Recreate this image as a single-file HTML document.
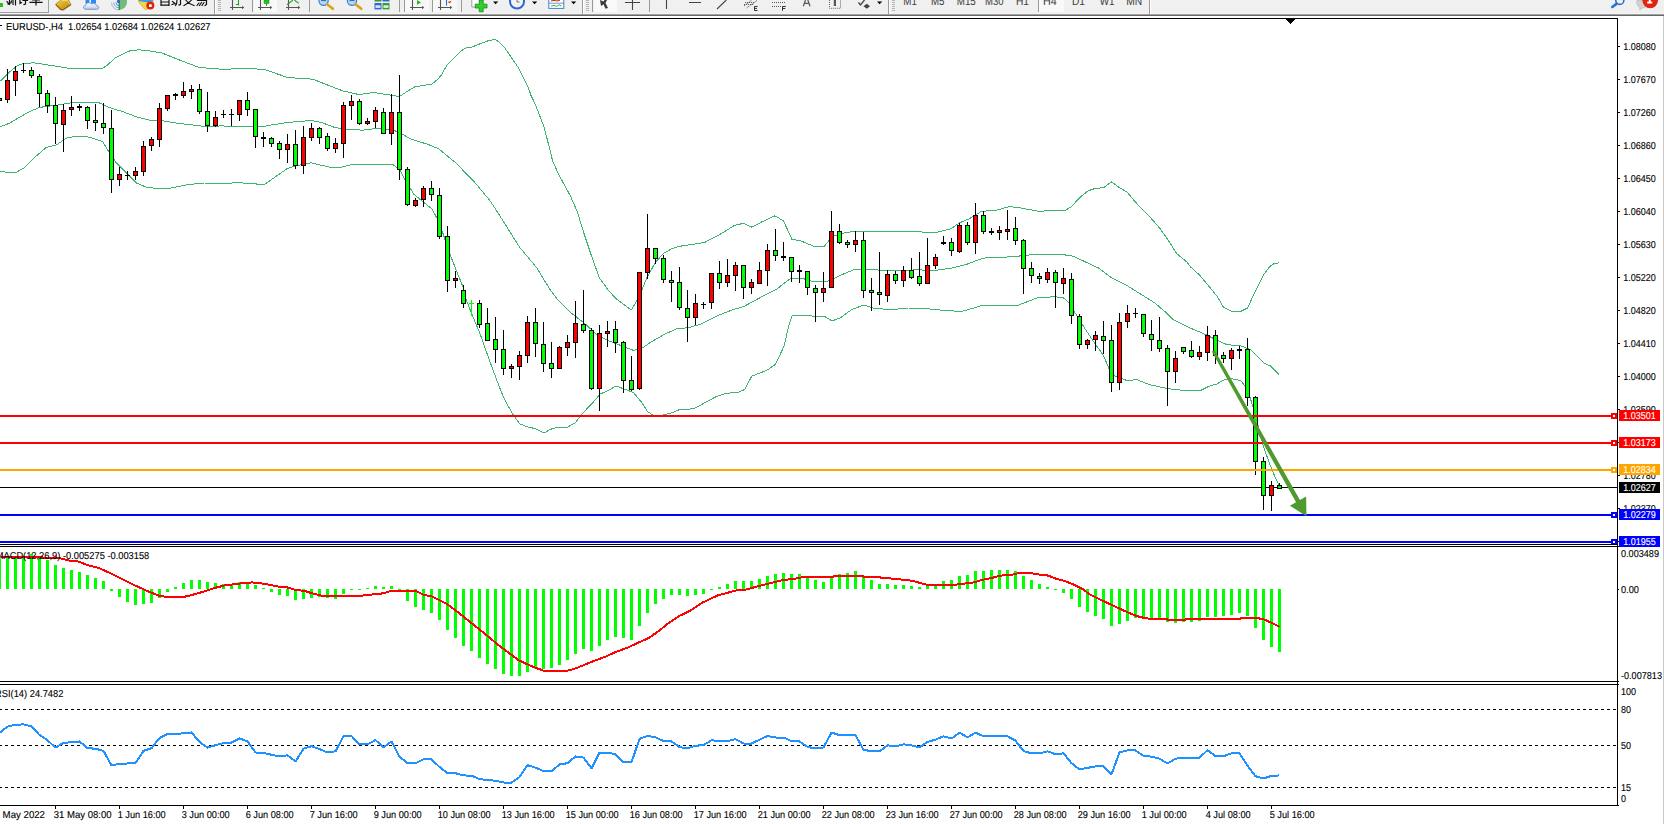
<!DOCTYPE html><html><head><meta charset="utf-8"><title>EURUSD H4</title><style>html,body{margin:0;padding:0;background:#fff;overflow:hidden}svg{display:block}text{font-family:"Liberation Sans",sans-serif;white-space:pre;text-rendering:geometricPrecision;stroke:#000;stroke-width:.12px}text[fill="#fff"]{stroke:#fff}</style></head><body>
<svg width="1664" height="824" viewBox="0 0 1664 824">
<rect x="0" y="0" width="1664" height="824" fill="#fff"/>
<g id="tb">
<rect x="0" y="0" width="1664" height="14" fill="#f0f0f0"/>
<g shape-rendering="crispEdges">
<rect x="0" y="13" width="1664" height="1" fill="#f4f4f4"/><rect x="0" y="14" width="1664" height="1" fill="#a0a0a0"/><rect x="0" y="15" width="1664" height="1" fill="#696969"/><rect x="0" y="16" width="1664" height="2" fill="#fff"/>
<rect x="48" y="0" width="1" height="13" fill="#a0a0a0"/><rect x="0" y="12" width="49" height="1" fill="#a0a0a0"/>
<rect x="0" y="3" width="3" height="4" fill="#1fc71f"/>
<rect x="214" y="0" width="1" height="14" fill="#9a9a9a"/>
<rect x="252" y="0" width="1" height="12" fill="#9a9a9a"/>
<rect x="309" y="0" width="1" height="12" fill="#9a9a9a"/>
<rect x="399" y="0" width="1" height="12" fill="#9a9a9a"/>
<rect x="404" y="0" width="1" height="12" fill="#9a9a9a"/>
<rect x="432" y="0" width="1" height="12" fill="#9a9a9a"/>
<rect x="461" y="0" width="1" height="12" fill="#9a9a9a"/>
<rect x="582" y="0" width="1" height="14" fill="#9a9a9a"/>
<rect x="592" y="0" width="1" height="12" fill="#9a9a9a"/>
<rect x="649" y="0" width="1" height="12" fill="#9a9a9a"/>
<rect x="888" y="0" width="1" height="14" fill="#9a9a9a"/>
<rect x="1038" y="0" width="1" height="12" fill="#9a9a9a"/>
<rect x="1149" y="0" width="1" height="14" fill="#9a9a9a"/>
<rect x="215" y="0" width="1" height="14" fill="#fff"/>
<rect x="583" y="0" width="1" height="14" fill="#fff"/>
<rect x="889" y="0" width="1" height="14" fill="#fff"/>
<rect x="1150" y="0" width="1" height="14" fill="#fff"/>
<rect x="218" y="0" width="3" height="1" fill="#b4b4b4"/>
<rect x="218" y="2" width="3" height="1" fill="#b4b4b4"/>
<rect x="218" y="4" width="3" height="1" fill="#b4b4b4"/>
<rect x="218" y="6" width="3" height="1" fill="#b4b4b4"/>
<rect x="218" y="8" width="3" height="1" fill="#b4b4b4"/>
<rect x="218" y="10" width="3" height="1" fill="#b4b4b4"/>
<rect x="586" y="0" width="3" height="1" fill="#b4b4b4"/>
<rect x="586" y="2" width="3" height="1" fill="#b4b4b4"/>
<rect x="586" y="4" width="3" height="1" fill="#b4b4b4"/>
<rect x="586" y="6" width="3" height="1" fill="#b4b4b4"/>
<rect x="586" y="8" width="3" height="1" fill="#b4b4b4"/>
<rect x="586" y="10" width="3" height="1" fill="#b4b4b4"/>
<rect x="892" y="0" width="3" height="1" fill="#b4b4b4"/>
<rect x="892" y="2" width="3" height="1" fill="#b4b4b4"/>
<rect x="892" y="4" width="3" height="1" fill="#b4b4b4"/>
<rect x="892" y="6" width="3" height="1" fill="#b4b4b4"/>
<rect x="892" y="8" width="3" height="1" fill="#b4b4b4"/>
<rect x="892" y="10" width="3" height="1" fill="#b4b4b4"/>
<rect x="254" y="0" width="23" height="12" fill="#f9f9f9"/><rect x="594" y="0" width="23" height="12" fill="#f9f9f9"/><rect x="1039" y="0" width="25" height="12" fill="#f9f9f9"/><rect x="405" y="0" width="24" height="12" fill="#f8f8f8"/><rect x="433" y="0" width="24" height="12" fill="#f8f8f8"/>
</g>
<g stroke="#111" stroke-width="1.2" fill="none" stroke-linecap="square">
<path d="M7 1.5L9 4M9.5 0V4.5L8 4M11.5 1L10.8 3M13 0V4.5M15.5 0V5"/>
<path d="M20 0V3.5L21.5 2.5M23 0.5H27.5M25.5 0.5V4L24 4.5"/>
<path d="M30 2.3H42M36 0V5M32.5 0H39.5"/>
<path d="M161 0V5.5M169 0V5.5M161 2H169M161 5.2H169"/>
<path d="M172.5 1.5L175 3.5L172 4.5M177 0C177 3 176.5 4.5 175.5 5.5M180.5 0V4.5L179 5"/>
<path d="M184 5.5C187 4 190 2 191.5 0M186 0.5C188 3 190.5 4.5 194 5.5"/>
<path d="M197.5 0.5H206.5M199 3L197 5.5M201.5 2.5L199.5 5.5M206.5 0.5V4.5L205 5.5M204 2.5L202 5.5"/>
</g>
<defs><linearGradient id="gd" x1="0" y1="0" x2="1" y2="1"><stop offset="0" stop-color="#f6d24a"/><stop offset="1" stop-color="#b67c08"/></linearGradient>
<linearGradient id="cl" x1="0" y1="0" x2="0" y2="1"><stop offset="0" stop-color="#fff"/><stop offset="1" stop-color="#b9c9e6"/></linearGradient></defs>
<path d="M55.5 4L61 0H68.5L71 4.5L63 10L60.5 9.5Z" fill="url(#gd)" stroke="#a87408" stroke-width=".6"/><path d="M55.8 4.6L60.5 9.4L63 10L71 4.6" fill="none" stroke="#8a5a04" stroke-width="1.1"/><path d="M61.5 0.5L67.5 0.5L69.5 3.8" fill="none" stroke="#fbe58a" stroke-width=".8"/>
<rect x="85.5" y="0" width="10.5" height="3.5" fill="#2b8cf0"/><rect x="89.5" y="0" width="1.5" height="3" fill="#fff"/>
<path d="M86 9.3C83 9.3 82.5 5.8 85.5 5.3C86 2.5 90 1.8 91.5 4C94 2.8 96.5 4 96.5 5.6C99.5 5.8 99.5 9.3 96.5 9.3Z" fill="url(#cl)" stroke="#5f83bd" stroke-width=".8"/>
<g fill="none" stroke="#4a7be0" stroke-width=".9"><path d="M119 2.5m-3 0a3 3 0 0 0 3 3"/><path d="M119 2.5m-5.2 0a5.2 5.2 0 0 0 5.2 5.2" opacity=".8"/><path d="M119 2.5m-7.5 0a7.5 7.5 0 0 0 7.5 7.5" opacity=".55"/></g>
<path d="M119 2V10A8 8 0 0 0 127 1V0H119Z" fill="#4aa55a" opacity=".75"/><rect x="118.6" y="2" width="1.4" height="8" fill="#1e9c2e"/><circle cx="118.5" cy="1.5" r="1.6" fill="#2c62d8"/>
<path d="M138.5 1.5L144.5 9L146.5 9.6L153 4V0H138.5Z" fill="#f7d646" stroke="#c59a10" stroke-width=".6"/><path d="M139 0H153V1.2C148 2.6 143 2.4 139 1Z" fill="#3aa0e6"/>
<circle cx="150.3" cy="5.6" r="4" fill="#e2230f"/><rect x="149" y="4.3" width="2.7" height="2.7" fill="#fff"/>
<path d="M232.5 0V10M230 7.5H243" stroke="#555" stroke-width="1.1" fill="none"/><path d="M242 5.7L244.3 7.5L242 9.3Z" fill="#555"/>
<path d="M238.5 0V5.6M236 4.5H238.5" stroke="#1da51d" stroke-width="1.1" fill="none"/>
<path d="M260.5 0V10M258 7.5H271" stroke="#555" stroke-width="1.1" fill="none"/><path d="M270 5.7L272.3 7.5L270 9.3Z" fill="#555"/>
<rect x="264" y="0" width="5" height="3.6" fill="#22c322" stroke="#159015" stroke-width=".5"/><path d="M266.5 3.6V5.8" stroke="#159015"/>
<path d="M288.5 0V10M286 7.5H299" stroke="#555" stroke-width="1.1" fill="none"/><path d="M298 5.7L300.3 7.5L298 9.3Z" fill="#555"/>
<path d="M287 4.8L293 0M294.5 0C296 1.5 297.5 2.5 298.8 3.2" stroke="#2aa52a" stroke-width="1.1" fill="none"/>
<circle cx="323.6" cy="0.8" r="4.6" fill="#b5d6f4" stroke="#3f7fd0" stroke-width="1.2"/><path d="M327.40000000000003 4.4L332.90000000000003 8.8" stroke="#d9a514" stroke-width="2.6" stroke-linecap="round"/>
<path d="M321.1 0.6H326.1" stroke="#2c62b8" stroke-width="1"/>
<circle cx="352" cy="0.8" r="4.6" fill="#b5d6f4" stroke="#3f7fd0" stroke-width="1.2"/><path d="M355.8 4.4L361.3 8.8" stroke="#d9a514" stroke-width="2.6" stroke-linecap="round"/>
<path d="M349.5 0.6H354.5" stroke="#2c62b8" stroke-width="1"/>
<rect x="374.5" y="0" width="7" height="1.5" fill="#2fa12f"/><rect x="382.5" y="0" width="7" height="1.5" fill="#3a62d4"/><rect x="374.5" y="3" width="7" height="6.4" fill="#3a62d4"/><rect x="382.5" y="3" width="7" height="6.4" fill="#2fa12f"/>
<rect x="375.5" y="5.3" width="5" height="2.6" fill="#fff" opacity=".85"/><rect x="383.5" y="5.3" width="5" height="2.6" fill="#fff" opacity=".85"/>
<path d="M412.5 0V10M410 7.5H423" stroke="#555" stroke-width="1.1" fill="none"/><path d="M422 5.7L424.3 7.5L422 9.3Z" fill="#555"/>
<path d="M417 0L421 2.4L417 4.8Z" fill="#22b522"/>
<path d="M440.5 0V10M438 7.5H451" stroke="#555" stroke-width="1.1" fill="none"/><path d="M450 5.7L452.3 7.5L450 9.3Z" fill="#555"/>
<path d="M446.5 0V5.6" stroke="#2c6fd0" stroke-width="1.1"/><path d="M447.5 2L451.5 0.7L450 3.4Z" fill="#e0401a"/>
<path d="M471.8 0V7H479.5V0" fill="#fff" stroke="#8a8a8a" stroke-width=".8"/>
<path d="M479.2 0H483.2V4.2H487V8H483.2V11.8H479.2V8H475.2V4.2H479.2Z" fill="#2fcf2f" stroke="#148a14" stroke-width=".8"/>
<path d="M493 1.5H498.2L495.6 4.3Z" fill="#000"/>
<path d="M532 1.5H537.2L534.6 4.3Z" fill="#000"/>
<path d="M571 1.5H576.2L573.6 4.3Z" fill="#000"/>
<path d="M877 1.5H882.2L879.6 4.3Z" fill="#000"/>
<circle cx="517" cy="1.5" r="7" fill="#f4f4f4" stroke="#2b6ad0" stroke-width="2"/><path d="M517 0V2H519.5" stroke="#666" stroke-width=".9" fill="none"/>
<rect x="548.8" y="-1" width="15" height="9.4" fill="#fff" stroke="#3f7fd0" stroke-width="1"/><path d="M549 3.2H564" stroke="#3f7fd0" stroke-width=".8"/><path d="M551 1L554 0.4L557 1L560 0.2" stroke="#c0281a" stroke-width="1" fill="none"/><path d="M551 6.2L554 5.4L556.5 6.4L559 4.8L561.5 6" stroke="#2aa52a" stroke-width=".9" fill="none"/>
<path d="M600 0L603.5 1.5L604.5 0H607L605.5 3L608 8L605.5 8.8L603.5 4.2L601 6Z" fill="#3a3a3a"/>
<path d="M632.5 0V10M625 2.5H640" stroke="#444" stroke-width="1.1"/>
<path d="M666.5 0V9M689 2.5H701M717 9L726.3 0" stroke="#444" stroke-width="1.1"/>
<path d="M744 6L752 0M746.5 8L757 0.5M745 2.5H755M744 4.5H754" stroke="#555" stroke-width=".9" stroke-dasharray="1.2 .8"/>
<path d="M754.5 6.5V10.5M754.5 6.5H757.5M754.5 8.4H757M754.5 10.5H757.5" stroke="#333" stroke-width="1" fill="none"/>
<path d="M772 2.5H785M772 6.5H781" stroke="#555" stroke-width="1" stroke-dasharray="1 1"/><path d="M782.5 6.5V10.8M782.5 6.5H785.8M782.5 8.5H785.3" stroke="#333" stroke-width="1" fill="none"/>
<path d="M803.3 6.3L805.5 0M810 6.3L807.8 0M804.3 3.4H809" stroke="#555" stroke-width="1.2" fill="none"/>
<path d="M829.5 0V8.3H840.5V0" stroke="#555" stroke-width=".9" stroke-dasharray="1 1" fill="none"/><rect x="833.8" y="0" width="2.2" height="6" fill="#555"/>
<path d="M858.5 2.5L860.5 5L864.5 0" stroke="#444" stroke-width="1.3" fill="none"/><path d="M863.5 6.2L866.8 3.8L870 6.2L866.8 8.8Z" fill="#444"/>
<g fill="#3c3c3c" font-size="11.5">
<text x="903.3" y="5.3" textLength="13.5" lengthAdjust="spacingAndGlyphs" style="stroke:none">M1</text>
<text x="931" y="5.3" textLength="13.5" lengthAdjust="spacingAndGlyphs" style="stroke:none">M5</text>
<text x="956.8" y="5.3" textLength="19" lengthAdjust="spacingAndGlyphs" style="stroke:none">M15</text>
<text x="985" y="5.3" textLength="18.5" lengthAdjust="spacingAndGlyphs" style="stroke:none">M30</text>
<text x="1016" y="5.3" textLength="13" lengthAdjust="spacingAndGlyphs" style="stroke:none">H1</text>
<text x="1043" y="5.3" textLength="13.7" lengthAdjust="spacingAndGlyphs" style="stroke:none">H4</text>
<text x="1072" y="5.3" textLength="13" lengthAdjust="spacingAndGlyphs" style="stroke:none">D1</text>
<text x="1099.7" y="5.3" textLength="14.8" lengthAdjust="spacingAndGlyphs" style="stroke:none">W1</text>
<text x="1126.2" y="5.3" textLength="16" lengthAdjust="spacingAndGlyphs" style="stroke:none">MN</text>
</g>
<circle cx="1619.8" cy="0.4" r="4" fill="none" stroke="#2a6fd6" stroke-width="1.6"/><path d="M1616.8 3.6L1612.3 7" stroke="#2a6fd6" stroke-width="2.6" stroke-linecap="round"/>
<path d="M1637 0C1636 3.5 1637.5 6.5 1640 7.3L1639.6 10L1642.6 7.8C1646 7.8 1648 5 1648 0Z" fill="#d2d2d2" stroke="#b4b4b4" stroke-width=".6"/>
<circle cx="1650.2" cy="0.4" r="7.8" fill="#e2230f"/><rect x="1647.2" y="1.6" width="5" height="1.9" fill="#fff"/><rect x="1648.8" y="0" width="1.9" height="2" fill="#fff"/>
</g>
<g shape-rendering="crispEdges">
<rect x="0" y="18" width="1618" height="1" fill="#000"/>
<rect x="1617" y="18" width="1" height="788" fill="#000"/>
<rect x="1663" y="16" width="1" height="808" fill="#c8c8c8"/>
</g>
<clipPath id="cm"><rect x="0" y="19" width="1617" height="525"/></clipPath>
<g clip-path="url(#cm)">
<g shape-rendering="crispEdges">
<polyline points="0.5,81.1 9.0,72.5 17.5,65.5 24.3,63.2 34.5,62.9 51.5,65.5 68.5,68.3 85.5,68.7 102.5,68.3 106.5,65.8 116.0,57.3 129.5,51.0 138.5,49.8 146.5,50.5 161.9,53.0 178.9,59.8 199.3,67.5 221.4,69.2 246.8,68.7 263.8,69.2 270.5,71.5 287.5,77.5 313.0,79.2 330.0,86.0 343.5,91.1 358.8,94.5 374.1,92.5 389.5,95.0 399.5,96.5 406.5,91.9 414.9,86.8 420.5,86.0 432.0,84.0 437.5,79.5 440.9,75.6 446.8,65.4 452.4,59.5 459.6,52.3 464.7,48.3 472.3,46.9 480.0,43.8 487.6,41.0 492.7,39.9 496.1,39.9 500.4,43.3 504.6,47.6 510.6,56.5 519.1,68.8 525.0,80.7 528.0,86.7 531.0,95.5 535.5,104.7 544.0,126.8 550.5,152.2 552.5,160.5 558.5,174.1 570.5,196.2 577.2,211.5 584.0,233.5 590.8,253.9 599.3,277.7 607.8,289.5 616.3,299.0 626.5,306.5 631.5,310.0 635.8,302.4 641.8,290.5 646.8,277.7 655.3,262.5 663.8,253.1 672.3,248.5 679.0,246.4 704.5,242.5 719.8,234.5 735.1,225.1 743.5,223.4 752.0,227.2 762.2,221.7 775.0,215.8 783.5,220.9 792.0,239.5 799.6,240.4 814.9,246.7 824.2,246.4 831.9,237.0 840.4,233.6 855.7,231.1 874.4,231.6 908.4,231.1 933.8,232.8 940.5,231.5 950.7,228.9 959.2,223.0 969.4,218.7 981.3,211.4 996.5,210.2 1008.5,206.8 1017.0,207.2 1037.3,211.1 1064.5,210.7 1071.3,206.8 1079.8,197.5 1088.3,190.7 1095.1,188.5 1103.6,187.6 1111.5,181.9 1118.9,187.3 1127.4,192.4 1135.9,202.6 1147.8,214.5 1159.7,228.1 1168.1,240.0 1176.6,253.5 1186.8,262.0 1190.5,266.9 1199.6,275.1 1208.7,286.0 1216.9,296.0 1223.3,306.9 1232.4,311.9 1239.7,311.9 1247.8,307.9 1254.2,293.3 1263.3,275.1 1270.6,265.6 1274.2,263.6 1279.5,262.7" fill="none" stroke="#3cb371" stroke-width="1" stroke-linejoin="bevel"/>
<polyline points="0.5,126.5 9.0,123.5 17.5,118.5 29.4,111.7 39.5,107.4 56.5,105.2 71.9,102.7 85.5,102.7 99.0,102.8 109.2,107.4 122.8,111.7 136.5,116.8 150.0,120.2 163.5,121.0 178.9,123.5 192.5,124.9 209.5,127.0 221.4,125.8 238.4,127.0 255.3,126.6 265.5,126.1 270.5,125.1 287.5,122.5 311.3,120.5 321.5,122.5 335.1,127.6 343.5,128.8 362.2,130.2 375.8,128.5 392.8,129.8 401.3,133.5 409.8,138.7 428.5,144.6 438.7,148.8 448.9,157.3 457.4,164.1 465.9,173.5 473.5,180.9 490.5,201.3 502.5,220.0 519.5,247.1 536.5,267.5 550.0,289.5 558.5,300.7 570.4,312.5 584.0,322.8 595.9,333.8 607.8,340.5 621.4,345.7 633.3,350.3 641.8,348.3 651.9,341.5 663.8,334.7 676.8,328.6 687.8,327.8 700.5,324.2 719.4,315.0 732.0,310.0 743.5,306.7 762.2,296.5 775.8,289.7 791.1,278.1 801.3,278.1 814.9,282.0 826.8,281.7 840.4,275.3 855.7,269.0 874.4,269.8 896.5,271.0 916.8,269.8 933.8,270.5 940.5,269.7 952.4,268.0 966.0,264.6 983.0,258.1 1003.4,257.3 1022.0,255.8 1037.3,254.1 1059.4,254.1 1073.0,256.1 1084.9,261.7 1098.5,268.0 1112.1,278.2 1127.4,285.8 1141.0,294.3 1154.6,302.8 1166.5,313.0 1172.8,319.4 1189.8,327.9 1205.1,334.3 1216.0,339.7 1226.9,344.6 1241.5,346.1 1250.6,349.7 1263.3,362.5 1270.6,366.1 1279.5,375.2" fill="none" stroke="#3cb371" stroke-width="1" stroke-linejoin="bevel"/>
<polyline points="0.5,171.1 9.0,172.8 15.8,172.5 24.3,167.7 34.5,157.5 46.4,147.3 56.5,144.8 66.8,138.0 77.0,136.0 88.8,137.1 102.5,141.4 109.2,152.5 116.0,162.5 126.2,172.8 136.5,183.0 146.5,187.3 156.8,188.5 170.5,188.1 187.5,184.7 204.5,183.0 221.5,183.5 238.4,182.7 255.3,183.9 263.8,184.7 270.5,180.3 279.0,174.3 287.5,168.4 296.0,165.8 311.3,162.8 321.5,165.3 333.4,167.9 341.9,167.0 350.4,165.0 372.4,164.6 392.8,164.6 399.6,169.2 405.5,180.9 414.1,194.5 422.5,201.3 431.9,208.9 437.0,218.3 443.0,233.5 449.8,253.9 456.5,270.9 463.4,287.9 465.9,299.0 471.9,314.3 480.4,334.7 488.8,358.5 496.9,380.5 501.5,392.4 506.6,403.4 513.0,414.5 516.0,418.7 519.8,423.8 527.0,426.8 534.7,428.5 544.0,433.0 550.8,429.2 558.5,427.0 567.8,427.0 575.5,422.6 578.9,417.9 581.8,414.1 592.5,403.0 600.1,394.1 606.9,391.1 616.2,386.0 623.0,388.6 633.3,392.4 641.8,402.6 647.6,411.7 653.9,415.6 661.0,415.6 672.0,412.8 679.1,409.8 687.8,409.6 695.7,407.8 708.3,400.7 716.2,396.7 726.5,393.1 736.7,392.8 744.6,389.6 751.7,376.2 758.8,373.4 766.7,370.4 775.4,364.4 784.0,346.2 788.8,325.7 791.9,315.8 811.6,315.8 814.0,316.7 825.0,316.7 832.1,321.0 840.4,317.7 852.3,309.2 864.2,305.0 874.4,308.4 891.4,309.6 908.4,308.0 933.8,309.2 940.5,310.1 950.7,310.5 960.0,311.8 974.5,307.9 983.0,305.0 1000.0,305.7 1017.0,305.7 1028.8,301.1 1039.0,297.2 1056.0,296.9 1064.1,298.1 1069.2,303.2 1076.0,314.3 1084.5,327.9 1094.7,343.2 1103.2,355.1 1109.1,368.7 1115.1,376.3 1127.0,380.5 1137.1,379.7 1149.0,384.5 1167.7,388.7 1186.4,390.7 1200.0,390.7 1208.5,386.5 1217.0,383.9 1223.8,380.0 1232.3,378.8 1240.8,380.5 1245.9,387.3 1250.1,397.5 1253.3,407.8 1258.8,427.8 1263.3,446.0 1269.7,464.2 1275.1,477.0 1279.7,486.1" fill="none" stroke="#3cb371" stroke-width="1" stroke-linejoin="bevel"/>
</g>
<g shape-rendering="crispEdges">
<rect x="0" y="487" width="1617" height="1" fill="#000"/>
<path d="M7.5 69V103" stroke="#000"/><rect x="5.5" y="80.5" width="4" height="19" fill="#f00" stroke="#000"/>
<path d="M15.5 66V96" stroke="#000"/><rect x="13.5" y="71.5" width="4" height="9" fill="#f00" stroke="#000"/>
<path d="M23.5 63V73M21 70.5H26" stroke="#000" fill="none"/>
<path d="M31.5 67V78" stroke="#000"/><rect x="29.5" y="70.5" width="4" height="5" fill="#0f0" stroke="#000"/>
<path d="M39.5 74V107" stroke="#000"/><rect x="37.5" y="76.5" width="4" height="17" fill="#0f0" stroke="#000"/>
<path d="M47.5 90V113" stroke="#000"/><rect x="45.5" y="93.5" width="4" height="12" fill="#0f0" stroke="#000"/>
<path d="M55.5 97V144" stroke="#000"/><rect x="53.5" y="105.5" width="4" height="18" fill="#0f0" stroke="#000"/>
<path d="M63.5 104V152" stroke="#000"/><rect x="61.5" y="110.5" width="4" height="14" fill="#f00" stroke="#000"/>
<path d="M71.5 96V116" stroke="#000"/><rect x="69.5" y="107.5" width="4" height="2" fill="#f00" stroke="#000"/>
<path d="M79.5 104V111" stroke="#000"/><rect x="77" y="106" width="5" height="2" fill="#000"/>
<path d="M87.5 106V129" stroke="#000"/><rect x="85.5" y="107.5" width="4" height="13" fill="#0f0" stroke="#000"/>
<path d="M95.5 104V131" stroke="#000"/><rect x="93.5" y="120.5" width="4" height="2" fill="#0f0" stroke="#000"/>
<path d="M103.5 103V134" stroke="#000"/><rect x="101.5" y="123.5" width="4" height="4" fill="#0f0" stroke="#000"/>
<path d="M111.5 110V193" stroke="#000"/><rect x="109.5" y="128.5" width="4" height="51" fill="#0f0" stroke="#000"/>
<path d="M119.5 167V186" stroke="#000"/><rect x="117.5" y="174.5" width="4" height="5" fill="#f00" stroke="#000"/>
<path d="M127.5 171V180M125 175.5H130" stroke="#000" fill="none"/>
<path d="M135.5 167V180" stroke="#000"/><rect x="133.5" y="171.5" width="4" height="4" fill="#f00" stroke="#000"/>
<path d="M143.5 141V176" stroke="#000"/><rect x="141.5" y="146.5" width="4" height="25" fill="#f00" stroke="#000"/>
<path d="M151.5 137V151" stroke="#000"/><rect x="149.5" y="139.5" width="4" height="6" fill="#f00" stroke="#000"/>
<path d="M159.5 103V147" stroke="#000"/><rect x="157.5" y="108.5" width="4" height="31" fill="#f00" stroke="#000"/>
<path d="M167.5 95V111" stroke="#000"/><rect x="165.5" y="95.5" width="4" height="13" fill="#f00" stroke="#000"/>
<path d="M175.5 93V100" stroke="#000"/><rect x="173" y="94" width="5" height="2" fill="#000"/>
<path d="M183.5 82V98" stroke="#000"/><rect x="181.5" y="91.5" width="4" height="4" fill="#f00" stroke="#000"/>
<path d="M191.5 85V99" stroke="#000"/><rect x="189.5" y="89.5" width="4" height="2" fill="#f00" stroke="#000"/>
<path d="M199.5 84V114" stroke="#000"/><rect x="197.5" y="89.5" width="4" height="22" fill="#0f0" stroke="#000"/>
<path d="M207.5 92V132" stroke="#000"/><rect x="205.5" y="111.5" width="4" height="14" fill="#0f0" stroke="#000"/>
<path d="M215.5 111V127" stroke="#000"/><rect x="213.5" y="117.5" width="4" height="8" fill="#f00" stroke="#000"/>
<path d="M223.5 110V118M221 114.5H226" stroke="#000" fill="none"/>
<path d="M231.5 109V126M229 114.5H234" stroke="#000" fill="none"/>
<path d="M239.5 100V121" stroke="#000"/><rect x="237.5" y="100.5" width="4" height="14" fill="#f00" stroke="#000"/>
<path d="M247.5 92V116" stroke="#000"/><rect x="245.5" y="100.5" width="4" height="9" fill="#0f0" stroke="#000"/>
<path d="M255.5 109V148" stroke="#000"/><rect x="253.5" y="109.5" width="4" height="27" fill="#0f0" stroke="#000"/>
<path d="M263.5 132V147" stroke="#000"/><rect x="261" y="137" width="5" height="2" fill="#000"/>
<path d="M271.5 137V147" stroke="#000"/><rect x="269.5" y="138.5" width="4" height="5" fill="#0f0" stroke="#000"/>
<path d="M279.5 141V159" stroke="#000"/><rect x="277.5" y="143.5" width="4" height="6" fill="#0f0" stroke="#000"/>
<path d="M287.5 134V163" stroke="#000"/><rect x="285.5" y="144.5" width="4" height="5" fill="#f00" stroke="#000"/>
<path d="M295.5 130V169" stroke="#000"/><rect x="293.5" y="144.5" width="4" height="21" fill="#0f0" stroke="#000"/>
<path d="M303.5 126V174" stroke="#000"/><rect x="301.5" y="137.5" width="4" height="28" fill="#f00" stroke="#000"/>
<path d="M311.5 123V141" stroke="#000"/><rect x="309.5" y="128.5" width="4" height="9" fill="#f00" stroke="#000"/>
<path d="M319.5 127V144" stroke="#000"/><rect x="317.5" y="128.5" width="4" height="9" fill="#0f0" stroke="#000"/>
<path d="M327.5 133V151" stroke="#000"/><rect x="325.5" y="136.5" width="4" height="12" fill="#0f0" stroke="#000"/>
<path d="M335.5 138V153" stroke="#000"/><rect x="333.5" y="143.5" width="4" height="5" fill="#f00" stroke="#000"/>
<path d="M343.5 102V158" stroke="#000"/><rect x="341.5" y="105.5" width="4" height="38" fill="#f00" stroke="#000"/>
<path d="M351.5 95V120" stroke="#000"/><rect x="349.5" y="101.5" width="4" height="4" fill="#f00" stroke="#000"/>
<path d="M359.5 99V125" stroke="#000"/><rect x="357.5" y="101.5" width="4" height="22" fill="#0f0" stroke="#000"/>
<path d="M367.5 118V125" stroke="#000"/><rect x="365.5" y="121.5" width="4" height="2" fill="#f00" stroke="#000"/>
<path d="M375.5 107V128" stroke="#000"/><rect x="373.5" y="110.5" width="4" height="11" fill="#f00" stroke="#000"/>
<path d="M383.5 108V134" stroke="#000"/><rect x="381.5" y="112.5" width="4" height="21" fill="#0f0" stroke="#000"/>
<path d="M391.5 94V145" stroke="#000"/><rect x="389.5" y="112.5" width="4" height="21" fill="#f00" stroke="#000"/>
<path d="M399.5 75V180" stroke="#000"/><rect x="397.5" y="112.5" width="4" height="57" fill="#0f0" stroke="#000"/>
<path d="M407.5 167V206" stroke="#000"/><rect x="405.5" y="169.5" width="4" height="35" fill="#0f0" stroke="#000"/>
<path d="M415.5 198V207" stroke="#000"/><rect x="413.5" y="200.5" width="4" height="5" fill="#f00" stroke="#000"/>
<path d="M423.5 186V207" stroke="#000"/><rect x="421.5" y="188.5" width="4" height="11" fill="#f00" stroke="#000"/>
<path d="M431.5 181V201" stroke="#000"/><rect x="429.5" y="188.5" width="4" height="6" fill="#0f0" stroke="#000"/>
<path d="M439.5 188V239" stroke="#000"/><rect x="437.5" y="195.5" width="4" height="41" fill="#0f0" stroke="#000"/>
<path d="M447.5 226V292" stroke="#000"/><rect x="445.5" y="236.5" width="4" height="44" fill="#0f0" stroke="#000"/>
<path d="M455.5 271V288" stroke="#000"/><rect x="453.5" y="278.5" width="4" height="2" fill="#f00" stroke="#000"/>
<path d="M463.5 285V308" stroke="#000"/><rect x="461.5" y="290.5" width="4" height="13" fill="#0f0" stroke="#000"/>
<path d="M471.5 300V316M469 303.5H474" stroke="#0f0" fill="none"/>
<path d="M479.5 300V328" stroke="#000"/><rect x="477.5" y="303.5" width="4" height="21" fill="#0f0" stroke="#000"/>
<path d="M487.5 308V341" stroke="#000"/><rect x="485.5" y="323.5" width="4" height="17" fill="#0f0" stroke="#000"/>
<path d="M495.5 317V363" stroke="#000"/><rect x="493.5" y="339.5" width="4" height="10" fill="#0f0" stroke="#000"/>
<path d="M503.5 330V375" stroke="#000"/><rect x="501.5" y="349.5" width="4" height="19" fill="#0f0" stroke="#000"/>
<path d="M511.5 364V378" stroke="#000"/><rect x="509.5" y="366.5" width="4" height="2" fill="#f00" stroke="#000"/>
<path d="M519.5 351V380" stroke="#000"/><rect x="517.5" y="355.5" width="4" height="11" fill="#f00" stroke="#000"/>
<path d="M527.5 316V363" stroke="#000"/><rect x="525.5" y="322.5" width="4" height="33" fill="#f00" stroke="#000"/>
<path d="M535.5 308V357" stroke="#000"/><rect x="533.5" y="322.5" width="4" height="21" fill="#0f0" stroke="#000"/>
<path d="M543.5 322V372" stroke="#000"/><rect x="541.5" y="344.5" width="4" height="19" fill="#0f0" stroke="#000"/>
<path d="M551.5 342V378" stroke="#000"/><rect x="549.5" y="363.5" width="4" height="5" fill="#0f0" stroke="#000"/>
<path d="M559.5 346V369" stroke="#000"/><rect x="557.5" y="347.5" width="4" height="21" fill="#f00" stroke="#000"/>
<path d="M567.5 335V356" stroke="#000"/><rect x="565.5" y="342.5" width="4" height="5" fill="#f00" stroke="#000"/>
<path d="M575.5 301V358" stroke="#000"/><rect x="573.5" y="323.5" width="4" height="19" fill="#f00" stroke="#000"/>
<path d="M583.5 290V333" stroke="#000"/><rect x="581.5" y="324.5" width="4" height="6" fill="#0f0" stroke="#000"/>
<path d="M591.5 328V390" stroke="#000"/><rect x="589.5" y="330.5" width="4" height="58" fill="#0f0" stroke="#000"/>
<path d="M599.5 325V411" stroke="#000"/><rect x="597.5" y="333.5" width="4" height="55" fill="#f00" stroke="#000"/>
<path d="M607.5 321V347" stroke="#000"/><rect x="605.5" y="331.5" width="4" height="2" fill="#f00" stroke="#000"/>
<path d="M615.5 321V353" stroke="#000"/><rect x="613.5" y="329.5" width="4" height="13" fill="#0f0" stroke="#000"/>
<path d="M623.5 341V393" stroke="#000"/><rect x="621.5" y="342.5" width="4" height="38" fill="#0f0" stroke="#000"/>
<path d="M631.5 356V391" stroke="#000"/><rect x="629.5" y="380.5" width="4" height="9" fill="#0f0" stroke="#000"/>
<path d="M639.5 272V390" stroke="#000"/><rect x="637.5" y="272.5" width="4" height="116" fill="#f00" stroke="#000"/>
<path d="M647.5 214V279" stroke="#000"/><rect x="645.5" y="248.5" width="4" height="24" fill="#f00" stroke="#000"/>
<path d="M655.5 248V264" stroke="#000"/><rect x="653.5" y="248.5" width="4" height="10" fill="#0f0" stroke="#000"/>
<path d="M663.5 255V283" stroke="#000"/><rect x="661.5" y="258.5" width="4" height="21" fill="#0f0" stroke="#000"/>
<path d="M671.5 271V302" stroke="#000"/><rect x="669.5" y="280.5" width="4" height="2" fill="#0f0" stroke="#000"/>
<path d="M679.5 267V310" stroke="#000"/><rect x="677.5" y="282.5" width="4" height="25" fill="#0f0" stroke="#000"/>
<path d="M687.5 290V342" stroke="#000"/><rect x="685.5" y="308.5" width="4" height="9" fill="#0f0" stroke="#000"/>
<path d="M695.5 294V325" stroke="#000"/><rect x="693.5" y="303.5" width="4" height="14" fill="#f00" stroke="#000"/>
<path d="M703.5 302V309M701 304.5H706" stroke="#000" fill="none"/>
<path d="M711.5 273V309" stroke="#000"/><rect x="709.5" y="273.5" width="4" height="29" fill="#f00" stroke="#000"/>
<path d="M719.5 261V289" stroke="#000"/><rect x="717.5" y="273.5" width="4" height="9" fill="#0f0" stroke="#000"/>
<path d="M727.5 259V287" stroke="#000"/><rect x="725.5" y="275.5" width="4" height="7" fill="#f00" stroke="#000"/>
<path d="M735.5 262V291" stroke="#000"/><rect x="733.5" y="265.5" width="4" height="10" fill="#f00" stroke="#000"/>
<path d="M743.5 265V299" stroke="#000"/><rect x="741.5" y="265.5" width="4" height="22" fill="#0f0" stroke="#000"/>
<path d="M751.5 279V294" stroke="#000"/><rect x="749.5" y="282.5" width="4" height="5" fill="#f00" stroke="#000"/>
<path d="M759.5 262V284" stroke="#000"/><rect x="757.5" y="270.5" width="4" height="13" fill="#f00" stroke="#000"/>
<path d="M767.5 244V286" stroke="#000"/><rect x="765.5" y="250.5" width="4" height="20" fill="#f00" stroke="#000"/>
<path d="M775.5 229V261" stroke="#000"/><rect x="773.5" y="250.5" width="4" height="5" fill="#0f0" stroke="#000"/>
<path d="M783.5 242V261" stroke="#000"/><rect x="781" y="256" width="5" height="2" fill="#000"/>
<path d="M791.5 257V282" stroke="#000"/><rect x="789.5" y="257.5" width="4" height="14" fill="#0f0" stroke="#000"/>
<path d="M799.5 265V283" stroke="#000"/><rect x="797" y="270" width="5" height="2" fill="#000"/>
<path d="M807.5 271V295" stroke="#000"/><rect x="805.5" y="271.5" width="4" height="16" fill="#0f0" stroke="#000"/>
<path d="M815.5 285V322" stroke="#000"/><rect x="813.5" y="288.5" width="4" height="4" fill="#0f0" stroke="#000"/>
<path d="M823.5 272V302" stroke="#000"/><rect x="821.5" y="288.5" width="4" height="4" fill="#f00" stroke="#000"/>
<path d="M831.5 211V288" stroke="#000"/><rect x="829.5" y="231.5" width="4" height="56" fill="#f00" stroke="#000"/>
<path d="M839.5 224V244" stroke="#000"/><rect x="837.5" y="231.5" width="4" height="11" fill="#0f0" stroke="#000"/>
<path d="M847.5 240V248" stroke="#000"/><rect x="845.5" y="242.5" width="4" height="2" fill="#0f0" stroke="#000"/>
<path d="M855.5 231V252" stroke="#000"/><rect x="853.5" y="240.5" width="4" height="4" fill="#f00" stroke="#000"/>
<path d="M863.5 232V298" stroke="#000"/><rect x="861.5" y="240.5" width="4" height="50" fill="#0f0" stroke="#000"/>
<path d="M871.5 278V311" stroke="#000"/><rect x="869.5" y="290.5" width="4" height="2" fill="#0f0" stroke="#000"/>
<path d="M879.5 252V305" stroke="#000"/><rect x="877.5" y="292.5" width="4" height="2" fill="#0f0" stroke="#000"/>
<path d="M887.5 270V302" stroke="#000"/><rect x="885.5" y="274.5" width="4" height="21" fill="#f00" stroke="#000"/>
<path d="M895.5 271V284" stroke="#000"/><rect x="893.5" y="274.5" width="4" height="6" fill="#0f0" stroke="#000"/>
<path d="M903.5 266V287" stroke="#000"/><rect x="901.5" y="270.5" width="4" height="10" fill="#f00" stroke="#000"/>
<path d="M911.5 258V279" stroke="#000"/><rect x="909.5" y="270.5" width="4" height="7" fill="#0f0" stroke="#000"/>
<path d="M919.5 252V286" stroke="#000"/><rect x="917.5" y="276.5" width="4" height="7" fill="#0f0" stroke="#000"/>
<path d="M927.5 238V284" stroke="#000"/><rect x="925.5" y="265.5" width="4" height="18" fill="#f00" stroke="#000"/>
<path d="M935.5 254V269" stroke="#000"/><rect x="933.5" y="257.5" width="4" height="8" fill="#f00" stroke="#000"/>
<path d="M943.5 236V245" stroke="#000"/><rect x="941" y="242" width="5" height="2" fill="#000"/>
<path d="M951.5 238V256" stroke="#000"/><rect x="949.5" y="242.5" width="4" height="8" fill="#0f0" stroke="#000"/>
<path d="M959.5 223V253" stroke="#000"/><rect x="957.5" y="225.5" width="4" height="26" fill="#f00" stroke="#000"/>
<path d="M967.5 222V245" stroke="#000"/><rect x="965.5" y="225.5" width="4" height="17" fill="#0f0" stroke="#000"/>
<path d="M975.5 203V254" stroke="#000"/><rect x="973.5" y="215.5" width="4" height="27" fill="#f00" stroke="#000"/>
<path d="M983.5 211V234" stroke="#000"/><rect x="981.5" y="215.5" width="4" height="16" fill="#0f0" stroke="#000"/>
<path d="M991.5 228V235" stroke="#000"/><rect x="989" y="231" width="5" height="2" fill="#000"/>
<path d="M999.5 226V240" stroke="#000"/><rect x="997.5" y="230.5" width="4" height="2" fill="#f00" stroke="#000"/>
<path d="M1007.5 210V240" stroke="#000"/><rect x="1005.5" y="229.5" width="4" height="2" fill="#f00" stroke="#000"/>
<path d="M1015.5 217V245" stroke="#000"/><rect x="1013.5" y="228.5" width="4" height="12" fill="#0f0" stroke="#000"/>
<path d="M1023.5 239V294" stroke="#000"/><rect x="1021.5" y="240.5" width="4" height="28" fill="#0f0" stroke="#000"/>
<path d="M1031.5 262V283" stroke="#000"/><rect x="1029.5" y="268.5" width="4" height="7" fill="#0f0" stroke="#000"/>
<path d="M1039.5 273V284" stroke="#000"/><rect x="1037.5" y="276.5" width="4" height="2" fill="#0f0" stroke="#000"/>
<path d="M1047.5 268V283" stroke="#000"/><rect x="1045.5" y="272.5" width="4" height="7" fill="#f00" stroke="#000"/>
<path d="M1055.5 270V308" stroke="#000"/><rect x="1053.5" y="272.5" width="4" height="10" fill="#0f0" stroke="#000"/>
<path d="M1063.5 268V294" stroke="#000"/><rect x="1061.5" y="278.5" width="4" height="5" fill="#f00" stroke="#000"/>
<path d="M1071.5 273V324" stroke="#000"/><rect x="1069.5" y="279.5" width="4" height="36" fill="#0f0" stroke="#000"/>
<path d="M1079.5 314V349" stroke="#000"/><rect x="1077.5" y="316.5" width="4" height="28" fill="#0f0" stroke="#000"/>
<path d="M1087.5 339V349" stroke="#000"/><rect x="1085.5" y="340.5" width="4" height="4" fill="#f00" stroke="#000"/>
<path d="M1095.5 331V351" stroke="#000"/><rect x="1093.5" y="335.5" width="4" height="4" fill="#f00" stroke="#000"/>
<path d="M1103.5 321V354" stroke="#000"/><rect x="1101.5" y="336.5" width="4" height="4" fill="#0f0" stroke="#000"/>
<path d="M1111.5 325V392" stroke="#000"/><rect x="1109.5" y="340.5" width="4" height="42" fill="#0f0" stroke="#000"/>
<path d="M1119.5 313V390" stroke="#000"/><rect x="1117.5" y="322.5" width="4" height="60" fill="#f00" stroke="#000"/>
<path d="M1127.5 305V328" stroke="#000"/><rect x="1125.5" y="313.5" width="4" height="8" fill="#f00" stroke="#000"/>
<path d="M1135.5 308V318M1133 313.5H1138" stroke="#000" fill="none"/>
<path d="M1143.5 314V337" stroke="#000"/><rect x="1141.5" y="314.5" width="4" height="19" fill="#0f0" stroke="#000"/>
<path d="M1151.5 320V351" stroke="#000"/><rect x="1149.5" y="334.5" width="4" height="5" fill="#0f0" stroke="#000"/>
<path d="M1159.5 317V352" stroke="#000"/><rect x="1157.5" y="340.5" width="4" height="8" fill="#0f0" stroke="#000"/>
<path d="M1167.5 345V406" stroke="#000"/><rect x="1165.5" y="348.5" width="4" height="23" fill="#0f0" stroke="#000"/>
<path d="M1175.5 351V383" stroke="#000"/><rect x="1173.5" y="358.5" width="4" height="13" fill="#f00" stroke="#000"/>
<path d="M1183.5 347V354" stroke="#000"/><rect x="1181.5" y="347.5" width="4" height="4" fill="#0f0" stroke="#000"/>
<path d="M1191.5 341V358" stroke="#000"/><rect x="1189.5" y="350.5" width="4" height="6" fill="#0f0" stroke="#000"/>
<path d="M1199.5 346V360" stroke="#000"/><rect x="1197.5" y="352.5" width="4" height="4" fill="#f00" stroke="#000"/>
<path d="M1207.5 326V361" stroke="#000"/><rect x="1205.5" y="335.5" width="4" height="17" fill="#f00" stroke="#000"/>
<path d="M1215.5 330V364" stroke="#000"/><rect x="1213.5" y="335.5" width="4" height="20" fill="#0f0" stroke="#000"/>
<path d="M1223.5 352V363" stroke="#000"/><rect x="1221.5" y="355.5" width="4" height="3" fill="#0f0" stroke="#000"/>
<path d="M1231.5 348V370" stroke="#000"/><rect x="1229.5" y="350.5" width="4" height="8" fill="#f00" stroke="#000"/>
<path d="M1239.5 346V359" stroke="#000"/><rect x="1237" y="349" width="5" height="2" fill="#000"/>
<path d="M1247.5 338V406" stroke="#000"/><rect x="1245.5" y="349.5" width="4" height="48" fill="#0f0" stroke="#000"/>
<path d="M1255.5 396V475" stroke="#000"/><rect x="1253.5" y="397.5" width="4" height="64" fill="#0f0" stroke="#000"/>
<path d="M1263.5 457V510" stroke="#000"/><rect x="1261.5" y="461.5" width="4" height="34" fill="#0f0" stroke="#000"/>
<path d="M1271.5 481V511" stroke="#000"/><rect x="1269.5" y="485.5" width="4" height="10" fill="#f00" stroke="#000"/>
<path d="M1279.5 483V489" stroke="#000"/><rect x="1277.5" y="485.5" width="4" height="3" fill="#0f0" stroke="#000"/>
<rect x="-2.5" y="98.5" width="4" height="2" fill="#0f0" stroke="#000"/>
</g>
</g>
<g shape-rendering="crispEdges">
<rect x="0" y="415" width="1617" height="2" fill="#f00"/>
<rect x="1611" y="413" width="6" height="6" fill="#f00"/>
<rect x="1613" y="415" width="2" height="2" fill="#fff"/>
<rect x="0" y="442" width="1617" height="2" fill="#f00"/>
<rect x="1611" y="440" width="6" height="6" fill="#f00"/>
<rect x="1613" y="442" width="2" height="2" fill="#fff"/>
<rect x="0" y="469" width="1617" height="2" fill="#ffa500"/>
<rect x="1611" y="467" width="6" height="6" fill="#ffa500"/>
<rect x="1613" y="469" width="2" height="2" fill="#fff"/>
<rect x="0" y="514" width="1617" height="2" fill="#00f"/>
<rect x="1611" y="512" width="6" height="6" fill="#00f"/>
<rect x="1613" y="514" width="2" height="2" fill="#fff"/>
<rect x="0" y="541" width="1617" height="2" fill="#00f"/>
<rect x="1611" y="539" width="6" height="6" fill="#00f"/>
<rect x="1613" y="541" width="2" height="2" fill="#fff"/>
</g>
<polygon points="1211.8,351.6 1296.5,503.1 1300.5,500.9 1214.6,350.0" fill="#4f9a2e"/>
<polygon points="1306.5,516.2 1289.9,505.7 1306.1,496.6" fill="#4f9a2e"/>
<polygon points="1285.5,19 1295.5,19 1290.5,24" fill="#000" shape-rendering="crispEdges"/>
<rect x="0" y="25" width="2" height="1" fill="#000" shape-rendering="crispEdges"/>
<text x="6" y="29.7" font-size="10" textLength="204.5" lengthAdjust="spacingAndGlyphs">EURUSD-,H4  1.02654 1.02684 1.02624 1.02627</text>
<g shape-rendering="crispEdges">
<rect x="1618" y="46" width="2" height="1" fill="#000"/>
<rect x="1618" y="79" width="2" height="1" fill="#000"/>
<rect x="1618" y="112" width="2" height="1" fill="#000"/>
<rect x="1618" y="145" width="2" height="1" fill="#000"/>
<rect x="1618" y="178" width="2" height="1" fill="#000"/>
<rect x="1618" y="211" width="2" height="1" fill="#000"/>
<rect x="1618" y="244" width="2" height="1" fill="#000"/>
<rect x="1618" y="277" width="2" height="1" fill="#000"/>
<rect x="1618" y="310" width="2" height="1" fill="#000"/>
<rect x="1618" y="343" width="2" height="1" fill="#000"/>
<rect x="1618" y="376" width="2" height="1" fill="#000"/>
<rect x="1618" y="409" width="2" height="1" fill="#000"/>
<rect x="1618" y="442" width="2" height="1" fill="#000"/>
<rect x="1618" y="475" width="2" height="1" fill="#000"/>
<rect x="1618" y="508" width="2" height="1" fill="#000"/>
<rect x="1618" y="541" width="2" height="1" fill="#000"/>
</g>
<text x="1623.2" y="50" font-size="10" textLength="32.6" lengthAdjust="spacingAndGlyphs">1.08080</text>
<text x="1623.2" y="83" font-size="10" textLength="32.6" lengthAdjust="spacingAndGlyphs">1.07670</text>
<text x="1623.2" y="116" font-size="10" textLength="32.6" lengthAdjust="spacingAndGlyphs">1.07260</text>
<text x="1623.2" y="149" font-size="10" textLength="32.6" lengthAdjust="spacingAndGlyphs">1.06860</text>
<text x="1623.2" y="182" font-size="10" textLength="32.6" lengthAdjust="spacingAndGlyphs">1.06450</text>
<text x="1623.2" y="215" font-size="10" textLength="32.6" lengthAdjust="spacingAndGlyphs">1.06040</text>
<text x="1623.2" y="248" font-size="10" textLength="32.6" lengthAdjust="spacingAndGlyphs">1.05630</text>
<text x="1623.2" y="281" font-size="10" textLength="32.6" lengthAdjust="spacingAndGlyphs">1.05220</text>
<text x="1623.2" y="314" font-size="10" textLength="32.6" lengthAdjust="spacingAndGlyphs">1.04820</text>
<text x="1623.2" y="347" font-size="10" textLength="32.6" lengthAdjust="spacingAndGlyphs">1.04410</text>
<text x="1623.2" y="380" font-size="10" textLength="32.6" lengthAdjust="spacingAndGlyphs">1.04000</text>
<text x="1623.2" y="413" font-size="10" textLength="32.6" lengthAdjust="spacingAndGlyphs">1.03590</text>
<text x="1623.2" y="446" font-size="10" textLength="32.6" lengthAdjust="spacingAndGlyphs">1.03180</text>
<text x="1623.2" y="479" font-size="10" textLength="32.6" lengthAdjust="spacingAndGlyphs">1.02780</text>
<text x="1623.2" y="512" font-size="10" textLength="32.6" lengthAdjust="spacingAndGlyphs">1.02370</text>
<text x="1623.2" y="545" font-size="10" textLength="32.6" lengthAdjust="spacingAndGlyphs">1.01960</text>
<g shape-rendering="crispEdges">
<rect x="1619" y="410" width="41" height="11" fill="#f00"/>
<rect x="1619" y="437" width="41" height="11" fill="#f00"/>
<rect x="1619" y="464" width="41" height="11" fill="#ffa500"/>
<rect x="1619" y="509" width="41" height="11" fill="#00f"/>
<rect x="1619" y="536" width="41" height="11" fill="#00f"/>
<rect x="1619" y="482" width="41" height="11" fill="#000"/>
</g>
<text x="1623.2" y="419" font-size="10" textLength="32.6" lengthAdjust="spacingAndGlyphs" fill="#fff">1.03501</text>
<text x="1623.2" y="446" font-size="10" textLength="32.6" lengthAdjust="spacingAndGlyphs" fill="#fff">1.03173</text>
<text x="1623.2" y="473" font-size="10" textLength="32.6" lengthAdjust="spacingAndGlyphs" fill="#fff">1.02834</text>
<text x="1623.2" y="518" font-size="10" textLength="32.6" lengthAdjust="spacingAndGlyphs" fill="#fff">1.02279</text>
<text x="1623.2" y="545" font-size="10" textLength="32.6" lengthAdjust="spacingAndGlyphs" fill="#fff">1.01955</text>
<text x="1623.2" y="491" font-size="10" textLength="32.6" lengthAdjust="spacingAndGlyphs" fill="#fff">1.02627</text>
<g shape-rendering="crispEdges">
<rect x="0" y="544" width="1617" height="1" fill="#000"/>
<rect x="0" y="546" width="1619" height="1" fill="#000"/>
<rect x="0" y="681" width="1619" height="1" fill="#000"/>
<rect x="0" y="684" width="1619" height="1" fill="#000"/>
<rect x="1618" y="589" width="1" height="1" fill="#000"/>
</g>
<clipPath id="c2"><rect x="0" y="547" width="1617" height="134"/></clipPath>
<g clip-path="url(#c2)"><g shape-rendering="crispEdges">
<path d="M-2 559h3V589h-3zM6 557h3V589h-3zM14 557h3V589h-3zM22 556h3V589h-3zM30 554h3V589h-3zM38 557h3V589h-3zM46 560h3V589h-3zM54 565h3V589h-3zM62 568h3V589h-3zM70 570h3V589h-3zM78 572h3V589h-3zM86 575h3V589h-3zM94 578h3V589h-3zM102 581h3V589h-3zM174 587h3V589h-3zM182 583h3V589h-3zM190 580h3V589h-3zM198 580h3V589h-3zM206 582h3V589h-3zM214 583h3V589h-3zM222 584h3V589h-3zM230 584h3V589h-3zM238 582h3V589h-3zM246 582h3V589h-3zM254 585h3V589h-3zM262 588h3V589h-3zM366 588h3V589h-3zM374 586h3V589h-3zM382 587h3V589h-3zM390 586h3V589h-3zM718 587h3V589h-3zM726 584h3V589h-3zM734 581h3V589h-3zM742 581h3V589h-3zM750 581h3V589h-3zM758 579h3V589h-3zM766 576h3V589h-3zM774 574h3V589h-3zM782 573h3V589h-3zM790 574h3V589h-3zM798 574h3V589h-3zM806 577h3V589h-3zM814 580h3V589h-3zM822 582h3V589h-3zM830 577h3V589h-3zM838 574h3V589h-3zM846 573h3V589h-3zM854 571h3V589h-3zM862 577h3V589h-3zM870 580h3V589h-3zM878 584h3V589h-3zM886 584h3V589h-3zM894 585h3V589h-3zM902 585h3V589h-3zM910 586h3V589h-3zM918 587h3V589h-3zM926 586h3V589h-3zM934 585h3V589h-3zM942 581h3V589h-3zM950 580h3V589h-3zM958 576h3V589h-3zM966 575h3V589h-3zM974 571h3V589h-3zM982 571h3V589h-3zM990 570h3V589h-3zM998 570h3V589h-3zM1006 570h3V589h-3zM1014 571h3V589h-3zM1022 576h3V589h-3zM1030 580h3V589h-3zM1038 584h3V589h-3zM1046 587h3V589h-3zM110 589h3V591h-3zM118 589h3V597h-3zM126 589h3V602h-3zM134 589h3V605h-3zM142 589h3V604h-3zM150 589h3V603h-3zM158 589h3V598h-3zM166 589h3V592h-3zM270 589h3V592h-3zM278 589h3V595h-3zM286 589h3V596h-3zM294 589h3V600h-3zM302 589h3V599h-3zM310 589h3V598h-3zM318 589h3V597h-3zM326 589h3V598h-3zM334 589h3V599h-3zM342 589h3V594h-3zM350 589h3V590h-3zM358 589h3V590h-3zM398 589h3V591h-3zM406 589h3V601h-3zM414 589h3V607h-3zM422 589h3V610h-3zM430 589h3V613h-3zM438 589h3V620h-3zM446 589h3V630h-3zM454 589h3V638h-3zM462 589h3V646h-3zM470 589h3V651h-3zM478 589h3V658h-3zM486 589h3V664h-3zM494 589h3V669h-3zM502 589h3V674h-3zM510 589h3V676h-3zM518 589h3V676h-3zM526 589h3V672h-3zM534 589h3V669h-3zM542 589h3V669h-3zM550 589h3V668h-3zM558 589h3V665h-3zM566 589h3V660h-3zM574 589h3V654h-3zM582 589h3V649h-3zM590 589h3V651h-3zM598 589h3V646h-3zM606 589h3V640h-3zM614 589h3V637h-3zM622 589h3V638h-3zM630 589h3V640h-3zM638 589h3V626h-3zM646 589h3V613h-3zM654 589h3V604h-3zM662 589h3V599h-3zM670 589h3V595h-3zM678 589h3V595h-3zM686 589h3V596h-3zM694 589h3V595h-3zM702 589h3V594h-3zM710 589h3V590h-3zM1054 589h3V590h-3zM1062 589h3V593h-3zM1070 589h3V599h-3zM1078 589h3V607h-3zM1086 589h3V612h-3zM1094 589h3V616h-3zM1102 589h3V619h-3zM1110 589h3V626h-3zM1118 589h3V624h-3zM1126 589h3V621h-3zM1134 589h3V618h-3zM1142 589h3V617h-3zM1150 589h3V619h-3zM1158 589h3V619h-3zM1166 589h3V622h-3zM1174 589h3V623h-3zM1182 589h3V622h-3zM1190 589h3V622h-3zM1198 589h3V621h-3zM1206 589h3V617h-3zM1214 589h3V617h-3zM1222 589h3V616h-3zM1230 589h3V615h-3zM1238 589h3V613h-3zM1246 589h3V616h-3zM1254 589h3V628h-3zM1262 589h3V640h-3zM1270 589h3V647h-3zM1278 589h3V652h-3z" fill="#0f0"/>
<polyline points="0.5,557.4 34.5,557.4 58.3,557.7 68.5,560.5 78.7,561.6 88.8,565.5 99.0,568.1 109.2,572.7 119.4,577.8 129.6,582.9 139.8,587.6 150.0,592.2 160.2,596.1 170.4,597.3 182.3,597.3 192.5,594.8 204.4,591.4 214.6,588.0 224.8,585.4 238.4,583.7 251.9,582.4 263.8,583.7 270.5,584.9 279.0,586.8 287.5,587.5 296.0,590.0 304.5,590.9 313.0,593.6 321.5,595.6 330.0,596.1 358.8,596.1 369.0,594.8 382.6,593.4 392.8,590.5 406.4,590.5 416.6,591.4 423.4,594.8 431.9,596.5 447.2,604.1 457.4,611.8 467.6,619.9 477.8,628.2 488.0,636.4 498.2,644.9 508.4,652.5 518.5,660.2 528.7,664.9 535.5,667.8 543.9,670.7 567.7,670.7 576.2,668.2 591.5,661.9 605.1,656.8 615.3,652.2 628.8,647.1 639.0,642.3 649.2,637.8 659.4,630.5 669.6,622.3 679.8,615.7 690.0,610.9 701.9,602.9 717.2,595.6 735.9,590.5 744.4,590.0 761.4,585.4 781.7,580.3 795.3,578.6 802.1,577.3 832.6,577.3 834.3,576.1 863.2,576.1 864.9,577.3 880.2,577.4 881.9,578.3 895.5,578.6 903.9,580.0 912.4,580.7 920.9,583.2 929.4,585.4 951.5,585.4 960.0,584.1 973.6,582.4 983.8,579.5 992.3,577.8 1000.8,575.6 1014.4,574.4 1017.8,573.2 1031.4,573.2 1039.9,574.7 1048.4,575.6 1056.9,579.0 1065.3,581.2 1073.8,584.6 1082.3,588.8 1089.0,593.9 1100.9,599.9 1114.5,606.2 1126.4,611.8 1136.6,616.0 1145.1,618.2 1153.6,619.1 1167.1,619.4 1168.8,620.3 1182.4,620.3 1185.8,619.4 1230.0,619.4 1233.4,618.6 1240.2,618.6 1241.9,617.7 1255.5,617.7 1264.0,619.4 1272.5,623.3 1279.5,626.7" fill="none" stroke="#f00" stroke-width="2" stroke-linejoin="bevel"/>
</g></g>
<text x="149.3" y="559" font-size="10" textLength="153.6" lengthAdjust="spacingAndGlyphs" text-anchor="end">MACD(12,26,9) -0.005275 -0.003158</text>
<text x="1621" y="557" font-size="10" textLength="38" lengthAdjust="spacingAndGlyphs">0.003489</text>
<text x="1621" y="593" font-size="10" textLength="18" lengthAdjust="spacingAndGlyphs">0.00</text>
<text x="1621" y="679" font-size="10" textLength="41" lengthAdjust="spacingAndGlyphs">-0.007813</text>
<g shape-rendering="crispEdges">
<rect x="0" y="805" width="1619" height="1" fill="#000"/>
<path d="M0 709.5H1616" stroke="#000" stroke-dasharray="3 3" stroke-dashoffset="1"/>
<path d="M0 745.5H1616" stroke="#000" stroke-dasharray="3 3" stroke-dashoffset="1"/>
<path d="M0 787.5H1616" stroke="#000" stroke-dasharray="3 3" stroke-dashoffset="1"/>
<polyline points="-0.5,732.9 7.5,726.6 15.5,724.8 23.5,724.4 31.5,726.5 39.5,735.0 47.5,740.2 55.5,747.7 63.5,742.8 71.5,742.3 79.5,741.4 87.5,748.2 95.5,748.7 103.5,750.8 111.5,765.5 119.5,763.8 127.5,763.5 135.5,763.2 143.5,750.8 151.5,748.2 159.5,738.0 167.5,734.1 175.5,733.8 183.5,733.4 191.5,732.4 199.5,741.9 207.5,747.7 215.5,745.2 223.5,743.1 231.5,742.6 239.5,738.4 247.5,741.4 255.5,752.5 263.5,753.0 271.5,754.7 279.5,756.4 287.5,755.3 295.5,761.5 303.5,748.7 311.5,746.2 319.5,749.1 327.5,752.5 335.5,751.3 343.5,736.3 351.5,736.0 359.5,744.5 367.5,744.3 375.5,740.1 383.5,747.4 391.5,741.4 399.5,756.7 407.5,763.2 415.5,763.2 423.5,759.3 431.5,759.3 439.5,766.9 447.5,773.2 455.5,773.2 463.5,775.4 471.5,775.7 479.5,779.1 487.5,780.0 495.5,780.8 503.5,782.5 511.5,782.5 519.5,777.1 527.5,765.2 535.5,767.7 543.5,771.1 551.5,771.5 559.5,764.4 567.5,763.2 575.5,756.4 583.5,757.6 591.5,768.3 599.5,752.5 607.5,752.5 615.5,754.2 623.5,762.3 631.5,762.3 639.5,738.9 647.5,736.0 655.5,737.2 663.5,741.1 671.5,741.4 679.5,747.0 687.5,748.5 695.5,745.7 703.5,745.2 711.5,740.2 719.5,741.1 727.5,741.1 735.5,739.2 743.5,743.5 751.5,743.5 759.5,739.7 767.5,736.0 775.5,737.5 783.5,737.5 791.5,741.1 799.5,741.4 807.5,746.9 815.5,748.5 823.5,747.4 831.5,732.6 839.5,735.1 847.5,735.1 855.5,735.1 863.5,749.9 871.5,751.1 879.5,751.3 887.5,745.3 895.5,746.5 903.5,744.3 911.5,745.3 919.5,747.4 927.5,741.9 935.5,739.7 943.5,736.3 951.5,738.5 959.5,732.6 967.5,737.5 975.5,732.6 983.5,736.3 991.5,736.3 999.5,736.3 1007.5,736.3 1015.5,740.6 1023.5,751.1 1031.5,753.3 1039.5,753.3 1047.5,751.3 1055.5,754.2 1063.5,753.3 1071.5,763.2 1079.5,769.3 1087.5,767.9 1095.5,766.4 1103.5,766.4 1111.5,774.2 1119.5,752.5 1127.5,750.4 1135.5,750.4 1143.5,755.9 1151.5,756.7 1159.5,758.7 1167.5,763.5 1175.5,758.7 1183.5,757.6 1191.5,757.6 1199.5,757.6 1207.5,750.2 1215.5,756.2 1223.5,756.2 1231.5,753.3 1239.5,753.3 1247.5,765.7 1255.5,776.2 1263.5,778.5 1271.5,775.9 1279.5,775.4" fill="none" stroke="#1e90ff" stroke-width="2" stroke-linejoin="bevel"/>
<rect x="55" y="806" width="1" height="3" fill="#000"/>
<rect x="119" y="806" width="1" height="3" fill="#000"/>
<rect x="183" y="806" width="1" height="3" fill="#000"/>
<rect x="247" y="806" width="1" height="3" fill="#000"/>
<rect x="311" y="806" width="1" height="3" fill="#000"/>
<rect x="375" y="806" width="1" height="3" fill="#000"/>
<rect x="439" y="806" width="1" height="3" fill="#000"/>
<rect x="503" y="806" width="1" height="3" fill="#000"/>
<rect x="567" y="806" width="1" height="3" fill="#000"/>
<rect x="631" y="806" width="1" height="3" fill="#000"/>
<rect x="695" y="806" width="1" height="3" fill="#000"/>
<rect x="759" y="806" width="1" height="3" fill="#000"/>
<rect x="823" y="806" width="1" height="3" fill="#000"/>
<rect x="887" y="806" width="1" height="3" fill="#000"/>
<rect x="951" y="806" width="1" height="3" fill="#000"/>
<rect x="1015" y="806" width="1" height="3" fill="#000"/>
<rect x="1079" y="806" width="1" height="3" fill="#000"/>
<rect x="1143" y="806" width="1" height="3" fill="#000"/>
<rect x="1207" y="806" width="1" height="3" fill="#000"/>
<rect x="1271" y="806" width="1" height="3" fill="#000"/>
</g>
<text x="63.3" y="697" font-size="10" textLength="68.2" lengthAdjust="spacingAndGlyphs" text-anchor="end">RSI(14) 24.7482</text>
<text x="1621" y="695" font-size="10" textLength="15" lengthAdjust="spacingAndGlyphs">100</text>
<text x="1621" y="713" font-size="10" textLength="10" lengthAdjust="spacingAndGlyphs">80</text>
<text x="1621" y="749" font-size="10" textLength="10" lengthAdjust="spacingAndGlyphs">50</text>
<text x="1621" y="791" font-size="10" textLength="10" lengthAdjust="spacingAndGlyphs">15</text>
<text x="1621" y="802" font-size="10" textLength="5" lengthAdjust="spacingAndGlyphs">0</text>
<text x="2.6" y="818" font-size="10" textLength="42.4" lengthAdjust="spacingAndGlyphs">May 2022</text>
<text x="53.7" y="818" font-size="10" textLength="58" lengthAdjust="spacingAndGlyphs">31 May 08:00</text>
<text x="117.7" y="818" font-size="10" textLength="48" lengthAdjust="spacingAndGlyphs">1 Jun 16:00</text>
<text x="181.7" y="818" font-size="10" textLength="48" lengthAdjust="spacingAndGlyphs">3 Jun 00:00</text>
<text x="245.7" y="818" font-size="10" textLength="48" lengthAdjust="spacingAndGlyphs">6 Jun 08:00</text>
<text x="309.7" y="818" font-size="10" textLength="48" lengthAdjust="spacingAndGlyphs">7 Jun 16:00</text>
<text x="373.7" y="818" font-size="10" textLength="48" lengthAdjust="spacingAndGlyphs">9 Jun 00:00</text>
<text x="437.7" y="818" font-size="10" textLength="53" lengthAdjust="spacingAndGlyphs">10 Jun 08:00</text>
<text x="501.7" y="818" font-size="10" textLength="53" lengthAdjust="spacingAndGlyphs">13 Jun 16:00</text>
<text x="565.7" y="818" font-size="10" textLength="53" lengthAdjust="spacingAndGlyphs">15 Jun 00:00</text>
<text x="629.7" y="818" font-size="10" textLength="53" lengthAdjust="spacingAndGlyphs">16 Jun 08:00</text>
<text x="693.7" y="818" font-size="10" textLength="53" lengthAdjust="spacingAndGlyphs">17 Jun 16:00</text>
<text x="757.7" y="818" font-size="10" textLength="53" lengthAdjust="spacingAndGlyphs">21 Jun 00:00</text>
<text x="821.7" y="818" font-size="10" textLength="53" lengthAdjust="spacingAndGlyphs">22 Jun 08:00</text>
<text x="885.7" y="818" font-size="10" textLength="53" lengthAdjust="spacingAndGlyphs">23 Jun 16:00</text>
<text x="949.7" y="818" font-size="10" textLength="53" lengthAdjust="spacingAndGlyphs">27 Jun 00:00</text>
<text x="1013.7" y="818" font-size="10" textLength="53" lengthAdjust="spacingAndGlyphs">28 Jun 08:00</text>
<text x="1077.7" y="818" font-size="10" textLength="53" lengthAdjust="spacingAndGlyphs">29 Jun 16:00</text>
<text x="1141.7" y="818" font-size="10" textLength="45" lengthAdjust="spacingAndGlyphs">1 Jul 00:00</text>
<text x="1205.7" y="818" font-size="10" textLength="45" lengthAdjust="spacingAndGlyphs">4 Jul 08:00</text>
<text x="1269.7" y="818" font-size="10" textLength="45" lengthAdjust="spacingAndGlyphs">5 Jul 16:00</text>
</svg></body></html>
